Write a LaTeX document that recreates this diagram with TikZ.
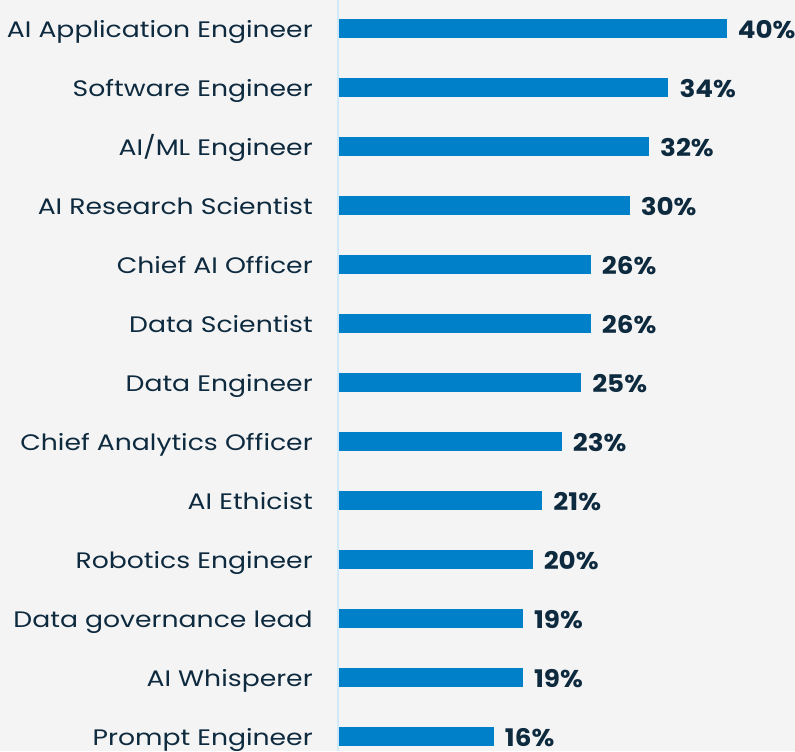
\documentclass[tikz,border=0pt]{standalone}
\usepackage{fontspec}
\setmainfont{Poppins}
\newfontfamily\rolefont[FakeStretch=1.19]{Poppins}
\newfontfamily\pctfont[FakeStretch=1.08]{Poppins}
\usepackage{tikz}
\definecolor{bgcol}{HTML}{F4F4F4}
\definecolor{barcol}{HTML}{0080C8}
\definecolor{axiscol}{HTML}{CFE9F8}
\definecolor{txtcol}{HTML}{0E2A3F}
\tikzset{
  rolelabel/.style = {anchor=base east, inner sep=0pt, text=txtcol,
                      font=\rolefont\fontsize{16.8}{18}\selectfont},
  pctlabel/.style  = {anchor=base west, inner sep=0pt, text=txtcol,
                      font=\pctfont\fontsize{18.2}{20}\selectfont\bfseries},
  bar/.style       = {fill=barcol}
}
\begin{document}
\begin{tikzpicture}[x=0.75pt, y=-0.75pt]
  \fill[bgcol] (0,0) rectangle (795,751);
  \useasboundingbox (0,0) rectangle (795,751);
  \coordinate (axtop) at (338,0);
  \coordinate (axbot) at (338,751);
  \draw[axiscol, line width=1.2pt] (axtop) -- (axbot);
  \foreach \name/\val [count=\i] in {
      AI Application Engineer/40, Software Engineer/34, {AI/ML Engineer}/32,
      AI Research Scientist/30, Chief AI Officer/26, Data Scientist/26,
      Data Engineer/25, Chief Analytics Officer/23, AI Ethicist/21,
      Robotics Engineer/20, Data governance lead/19, AI Whisperer/19,
      Prompt Engineer/16}
  {
    \pgfmathsetmacro{\yc}{28.5+59*(\i-1)}
    \pgfmathsetmacro{\xe}{338.5+9.7*\val}
    \fill[bar] (338.5,\yc-9.5) rectangle (\xe,\yc+9.5);
    \node[rolelabel] (role\i) at (313,\yc+8.5) {\name};
    \node[pctlabel] (pct\i) at (\xe+11,\yc+9.5) {\val\%};
  }
\end{tikzpicture}
\end{document}
